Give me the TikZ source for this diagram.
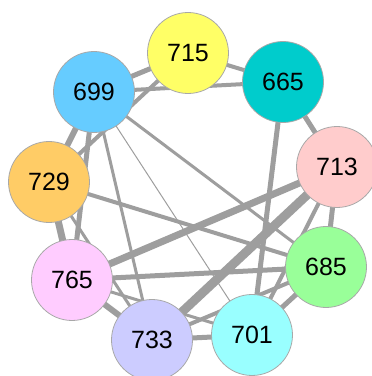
\documentclass[tikz,border=0pt]{standalone}
\usepackage{fontspec}
\setmainfont{Liberation Sans}
\usetikzlibrary{backgrounds}
\definecolor{linkgray}{HTML}{9E9E9E}
\definecolor{rimgray}{HTML}{A8A8A8}
\definecolor{c715}{HTML}{FFFF66}
\definecolor{c665}{HTML}{00CCCC}
\definecolor{c699}{HTML}{66CCFF}
\definecolor{c713}{HTML}{FFCCCC}
\definecolor{c729}{HTML}{FFCC66}
\definecolor{c685}{HTML}{99FF99}
\definecolor{c765}{HTML}{FFCCFF}
\definecolor{c733}{HTML}{CCCCFF}
\definecolor{c701}{HTML}{99FFFF}
\tikzset{
  vtx/.style={circle, draw=rimgray, line width=0.8pt, minimum size=81pt, inner sep=0pt,
    font=\fontsize{25pt}{28pt}\selectfont, text=black},
  link/.style={draw=linkgray, line cap=butt},
}

\begin{document}
\begin{tikzpicture}[x=1pt, y=1pt]
    \useasboundingbox (0,0) rectangle (372,376);
    \node[vtx, fill=c715] (n715) at (188,323) {715};
    \node[vtx, fill=c665] (n665) at (283,294) {665};
    \node[vtx, fill=c699] (n699) at (94,284) {699};
    \node[vtx, fill=c713] (n713) at (337,209) {713};
    \node[vtx, fill=c729] (n729) at (49,194) {729};
    \node[vtx, fill=c685] (n685) at (326,109) {685};
    \node[vtx, fill=c765] (n765) at (72,96) {765};
    \node[vtx, fill=c733] (n733) at (152,36) {733};
    \node[vtx, fill=c701] (n701) at (252,41) {701};
    \begin{pgfonlayer}{background}
      \draw[link, line width=4pt] (n715.center) -- (n665.center);
      \draw[link, line width=4pt] (n699.center) -- (n665.center);
      \draw[link, line width=5pt] (n699.center) -- (n715.center);
      \draw[link, line width=6pt] (n699.center) -- (n729.center);
      \draw[link, line width=5pt] (n699.center) -- (n765.center);
      \draw[link, line width=3pt] (n699.center) -- (n733.center);
      \draw[link, line width=1pt] (n699.center) -- (n701.center);
      \draw[link, line width=3pt] (n699.center) -- (n685.center);
      \draw[link, line width=4pt] (n715.center) -- (n729.center);
      \draw[link, line width=4pt] (n729.center) -- (n685.center);
      \draw[link, line width=7pt] (n729.center) -- (n765.center);
      \draw[link, line width=3pt] (n729.center) -- (n733.center);
      \draw[link, line width=5pt] (n665.center) -- (n713.center);
      \draw[link, line width=5pt] (n665.center) -- (n701.center);
      \draw[link, line width=7pt] (n713.center) -- (n765.center);
      \draw[link, line width=9pt] (n713.center) -- (n733.center);
      \draw[link, line width=4pt] (n713.center) -- (n701.center);
      \draw[link, line width=5pt] (n713.center) -- (n685.center);
      \draw[link, line width=5pt] (n765.center) -- (n685.center);
      \draw[link, line width=6pt] (n765.center) -- (n733.center);
      \draw[link, line width=3pt] (n765.center) -- (n701.center);
      \draw[link, line width=5pt] (n733.center) -- (n701.center);
      \draw[link, line width=4pt] (n733.center) -- (n685.center);
      \draw[link, line width=5pt] (n701.center) -- (n685.center);
    \end{pgfonlayer}
  \end{tikzpicture}
\end{document}
